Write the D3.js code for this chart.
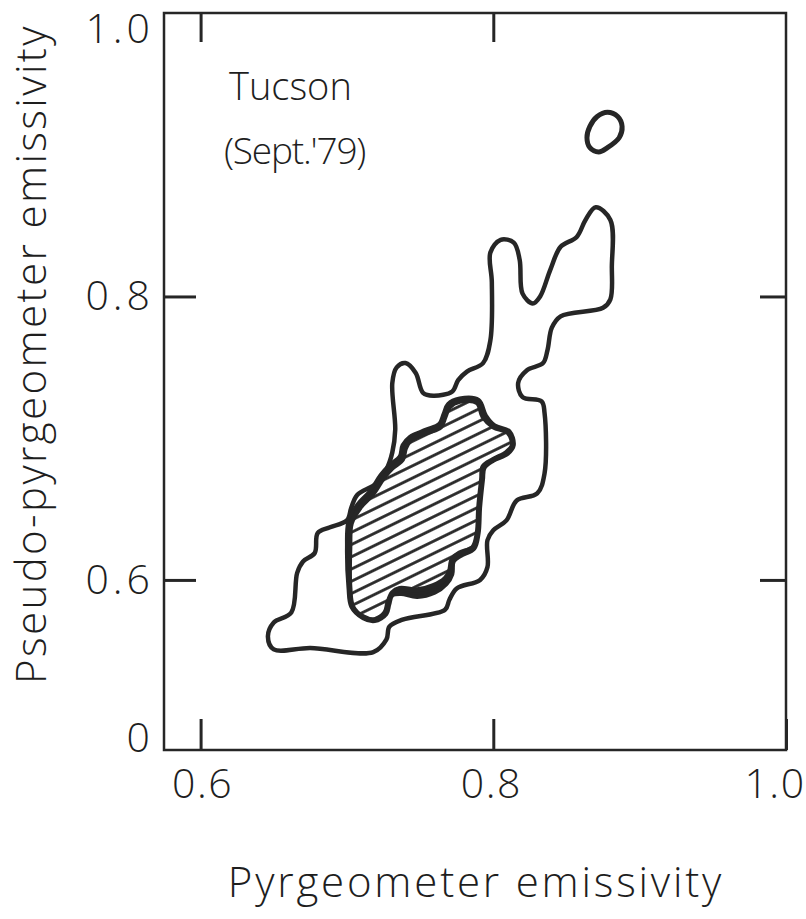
<!DOCTYPE html>
<html>
<head>
<meta charset="utf-8">
<script src="https://cdn.jsdelivr.net/npm/d3@7"></script>
<style>
  html, body { margin: 0; padding: 0; background: #ffffff; }
  svg { display: block; }
  text { font-family: "Open Sans", "DejaVu Sans", sans-serif; font-weight: 300; fill: #1e1e1e; }
</style>
</head>
<body>
<svg id="chart" width="806" height="919"></svg>
<script>
// Pyrgeometer vs. pseudo-pyrgeometer emissivity, Tucson, September 1979.
// Frequency contours are given as closed outlines in emissivity units [x, y].

const xTicks = [0.6, 0.8, 1.0];
const xTickLabels = ["0.6", "0.8", "1.0"];
const yTicks = [0.48, 0.6, 0.8, 1.0];
const yTickLabels = ["0", "0.6", "0.8", "1.0"];

// Outer (lowest) frequency contour
const outerContour = [
  [0.870, 0.863], [0.880, 0.854], [0.881, 0.821], [0.880, 0.798], [0.875, 0.792],
  [0.846, 0.786], [0.840, 0.778], [0.837, 0.762], [0.834, 0.753], [0.823, 0.748],
  [0.817, 0.739], [0.820, 0.729], [0.833, 0.726], [0.835, 0.718], [0.835, 0.675],
  [0.830, 0.661], [0.816, 0.656], [0.809, 0.642], [0.800, 0.635], [0.796, 0.628],
  [0.796, 0.609], [0.791, 0.600], [0.775, 0.594], [0.770, 0.586], [0.767, 0.579],
  [0.738, 0.572], [0.729, 0.567], [0.727, 0.558], [0.718, 0.549], [0.675, 0.552],
  [0.650, 0.551], [0.646, 0.560], [0.650, 0.570], [0.662, 0.577], [0.666, 0.605],
  [0.670, 0.613], [0.678, 0.619], [0.680, 0.633], [0.688, 0.637], [0.700, 0.642],
  [0.703, 0.651], [0.707, 0.660], [0.720, 0.668], [0.727, 0.678], [0.731, 0.690],
  [0.733, 0.706], [0.731, 0.739], [0.734, 0.750], [0.740, 0.753], [0.747, 0.746],
  [0.752, 0.732], [0.759, 0.730], [0.772, 0.733], [0.776, 0.741], [0.782, 0.747],
  [0.793, 0.753], [0.798, 0.769], [0.799, 0.810], [0.798, 0.831], [0.805, 0.840],
  [0.814, 0.838], [0.818, 0.826], [0.820, 0.802], [0.827, 0.795], [0.832, 0.800],
  [0.839, 0.819], [0.846, 0.835], [0.857, 0.842], [0.863, 0.854]
];

// Middle frequency contour, hugging the core region
const middleContour = [
  [0.777, 0.728], [0.790, 0.727], [0.795, 0.716], [0.801, 0.709], [0.811, 0.705],
  [0.814, 0.695], [0.810, 0.689], [0.800, 0.684], [0.794, 0.679], [0.793, 0.671],
  [0.791, 0.651], [0.790, 0.633], [0.787, 0.622], [0.778, 0.617], [0.773, 0.613],
  [0.772, 0.604], [0.768, 0.597], [0.760, 0.591], [0.748, 0.588], [0.737, 0.590],
  [0.731, 0.589], [0.729, 0.583], [0.727, 0.576], [0.719, 0.571], [0.711, 0.573],
  [0.703, 0.581], [0.701, 0.595], [0.700, 0.623], [0.701, 0.641], [0.707, 0.653],
  [0.716, 0.663], [0.723, 0.674], [0.729, 0.681], [0.736, 0.687], [0.738, 0.695],
  [0.743, 0.701], [0.754, 0.706], [0.763, 0.710], [0.766, 0.717], [0.769, 0.724]
];

// Highest frequency region (hatched)
const coreRegion = [
  [0.777, 0.726], [0.789, 0.725], [0.793, 0.715], [0.800, 0.708], [0.810, 0.704],
  [0.813, 0.695], [0.809, 0.690], [0.800, 0.685], [0.793, 0.680], [0.792, 0.671],
  [0.790, 0.651], [0.789, 0.633], [0.786, 0.623], [0.777, 0.619], [0.772, 0.615],
  [0.770, 0.606], [0.767, 0.601], [0.759, 0.596], [0.748, 0.593], [0.736, 0.594],
  [0.731, 0.591], [0.728, 0.584], [0.726, 0.577], [0.719, 0.572], [0.711, 0.574],
  [0.704, 0.581], [0.702, 0.595], [0.702, 0.623], [0.703, 0.640], [0.709, 0.651],
  [0.718, 0.661], [0.725, 0.672], [0.731, 0.679], [0.738, 0.685], [0.740, 0.693],
  [0.744, 0.699], [0.755, 0.704], [0.764, 0.708], [0.767, 0.715], [0.770, 0.722]
];

// Isolated small contour near the upper right
const isolatedContour = [
  [0.878, 0.930], [0.885, 0.927], [0.888, 0.920], [0.886, 0.912], [0.878, 0.905],
  [0.872, 0.902], [0.866, 0.905], [0.864, 0.912], [0.866, 0.920], [0.871, 0.927]
];

const svg = d3.select("#chart");
const x = d3.scaleLinear().domain([0.575, 1.0]).range([164, 786]);
const y = d3.scaleLinear().domain([0.48, 1.0]).range([750, 13]);

const ink = "#262626";
const closed = d3.line().x(d => x(d[0])).y(d => y(d[1])).curve(d3.curveCatmullRomClosed.alpha(0.5));

// Hatching pattern for the core region
const defs = svg.append("defs");
const pat = defs.append("pattern")
  .attr("id", "hatch").attr("patternUnits", "userSpaceOnUse")
  .attr("width", 11).attr("height", 11)
  .attr("patternTransform", "rotate(-26)");
pat.append("rect").attr("width", 11).attr("height", 11).attr("fill", "#fff");
pat.append("line").attr("x1", 0).attr("x2", 11).attr("y1", 5.5).attr("y2", 5.5)
  .attr("stroke", ink).attr("stroke-width", 2.8);

// Frame
svg.append("rect")
  .attr("x", x(0.575)).attr("y", y(1.0))
  .attr("width", x(1.0) - x(0.575)).attr("height", y(0.48) - y(1.0))
  .attr("fill", "none").attr("stroke", ink).attr("stroke-width", 2.5);

// Axes with inward ticks
const xAxisBottom = d3.axisBottom(x).tickValues(xTicks).tickSize(-31).tickFormat("");
const xAxisTop = d3.axisTop(x).tickValues(xTicks.filter(v => v < 1)).tickSize(-29).tickFormat("");
const yAxisLeft = d3.axisLeft(y).tickValues(yTicks.filter(v => v > 0.5 && v < 1)).tickSize(-32).tickFormat("");
const yAxisRight = d3.axisRight(y).tickValues(yTicks.filter(v => v > 0.5 && v < 1)).tickSize(-26).tickFormat("");

function styleAxis(g) {
  g.select(".domain").remove();
  g.selectAll(".tick line").attr("stroke", ink).attr("stroke-width", 3);
}
svg.append("g").attr("transform", `translate(0,${y(0.48)})`).call(xAxisBottom).call(styleAxis);
svg.append("g").attr("transform", `translate(0,${y(1.0)})`).call(xAxisTop).call(styleAxis);
svg.append("g").attr("transform", `translate(${x(0.575)},0)`).call(yAxisLeft).call(styleAxis);
svg.append("g").attr("transform", `translate(${x(1.0)},0)`).call(yAxisRight).call(styleAxis);

// Tick labels
const xLabelNudge = { 0.6: 2, 0.8: -2, 1.0: -11 };
svg.append("g").selectAll("text").data(xTicks).join("text")
  .attr("x", d => x(d) + xLabelNudge[d]).attr("y", 798)
  .attr("text-anchor", "middle").attr("font-size", 41).attr("letter-spacing", 1.5)
  .text((d, i) => xTickLabels[i]);

const yLabelNudge = { 0.48: -12, 0.6: 0, 0.8: 0, 1.0: 16 };
svg.append("g").selectAll("text").data(yTicks).join("text")
  .attr("x", 154).attr("y", d => y(d) + 14 + yLabelNudge[d])
  .attr("text-anchor", "end").attr("font-size", 41).attr("letter-spacing", 4)
  .text((d, i) => yTickLabels[i]);

// Axis titles
svg.append("text").attr("x", 476).attr("y", 897)
  .attr("text-anchor", "middle").attr("font-size", 42).attr("letter-spacing", 2.8)
  .text("Pyrgeometer emissivity");
svg.append("text")
  .attr("transform", "translate(46,354) rotate(-90)")
  .attr("text-anchor", "middle").attr("font-size", 42).attr("letter-spacing", 2.4)
  .text("Pseudo-pyrgeometer emissivity");

// Annotation
svg.append("text").attr("x", 229).attr("y", 100).attr("font-size", 38).text("Tucson");
svg.append("text").attr("x", 224).attr("y", 164).attr("font-size", 37).attr("letter-spacing", -1.2).text("(Sept.'79)");

// Contours
svg.append("path").datum(outerContour).attr("d", closed)
  .attr("fill", "none").attr("stroke", ink).attr("stroke-width", 4.5);
svg.append("path").datum(middleContour).attr("d", closed)
  .attr("fill", ink).attr("stroke", ink).attr("stroke-width", 4);
svg.append("path").datum(coreRegion).attr("d", closed)
  .attr("fill", "url(#hatch)").attr("stroke", ink).attr("stroke-width", 5);
svg.append("path").datum(isolatedContour).attr("d", closed)
  .attr("fill", "none").attr("stroke", ink).attr("stroke-width", 5);
</script>
</body>
</html>
